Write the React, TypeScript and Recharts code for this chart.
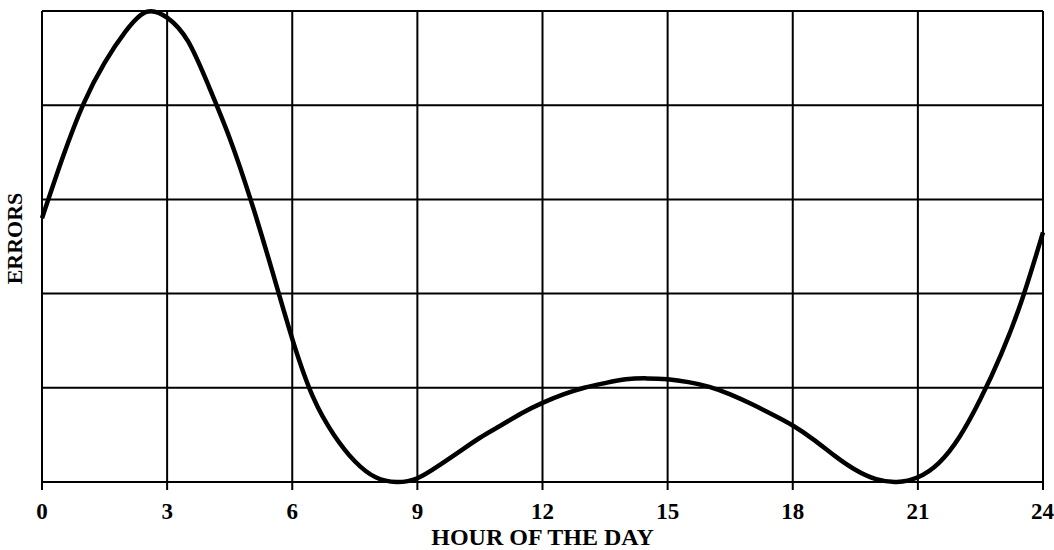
import { CartesianGrid, Line, LineChart, XAxis, YAxis } from "recharts"

// hour of the day (x) and error level (y)
const hours = [
  0, 0.5, 1, 1.5, 2, 2.5, 3, 3.5, 4, 4.5, 5, 5.5, 6, 6.5, 7, 7.5, 8, 8.5, 9, 9.5, 10, 10.5, 11, 11.5, 12,
  12.5, 13, 13.5, 14, 14.5, 15, 15.5, 16, 16.5, 17, 17.5, 18, 18.5, 19, 19.5, 20, 20.5, 21, 21.5, 22, 22.5,
  23, 23.5, 24,
]
const errors = [
  2.8, 3.45, 4.02, 4.45, 4.78, 4.99, 4.93, 4.68, 4.2, 3.65, 3.0, 2.27, 1.52, 0.9, 0.5, 0.22, 0.05, 0.0,
  0.04, 0.17, 0.32, 0.47, 0.6, 0.73, 0.84, 0.93, 1.0, 1.05, 1.09, 1.1, 1.09, 1.06, 1.01, 0.93, 0.83, 0.72,
  0.6, 0.45, 0.28, 0.13, 0.03, 0.0, 0.05, 0.2, 0.48, 0.88, 1.36, 1.94, 2.65,
]
const xTicks = [0, 3, 6, 9, 12, 15, 18, 21, 24]
const yTicks = [0, 1, 2, 3, 4, 5]

const data = hours.map((hour, i) => ({ hour, errors: errors[i] }))

const font = "'Liberation Serif', 'Times New Roman', serif"

export default function App() {
  return (
    <div style={{ position: "absolute", left: 0, top: 0, background: "#fff" }}>
      <LineChart width={1054} height={550} data={data} margin={{ top: 11, right: 11, left: 0, bottom: 0 }}>
        <CartesianGrid stroke="#000" strokeWidth={2} />
        <XAxis
          dataKey="hour"
          type="number"
          domain={[0, 24]}
          ticks={xTicks}
          height={68}
          stroke="#000"
          strokeWidth={2}
          tickSize={8}
          tickMargin={13}
          tick={{ fill: "#000", fontSize: 23, fontWeight: "bold", fontFamily: font }}
          label={{
            value: "HOUR OF THE DAY",
            position: "insideBottom",
            offset: 5,
            fill: "#000",
            fontSize: 24,
            fontWeight: "bold",
            fontFamily: font,
          }}
        />
        <YAxis
          type="number"
          domain={[0, 5]}
          ticks={yTicks}
          width={42}
          tick={() => <g />}
          tickLine={false}
          axisLine={false}
          label={{
            value: "ERRORS",
            angle: -90,
            position: "insideLeft",
            offset: 14,
            dy: -8,
            fill: "#000",
            fontSize: 22,
            fontWeight: "bold",
            fontFamily: font,
            style: { textAnchor: "middle" },
          }}
        />
        <Line
          type="natural"
          dataKey="errors"
          stroke="#000"
          strokeWidth={4.5}
          dot={false}
          isAnimationActive={false}
        />
      </LineChart>
    </div>
  )
}
